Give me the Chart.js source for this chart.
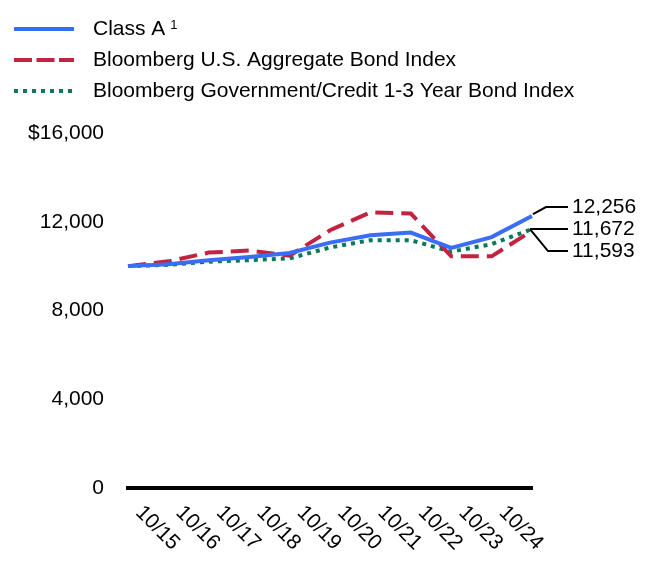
<!DOCTYPE html>
<html>
<head>
<meta charset="utf-8">
<script src="https://cdn.jsdelivr.net/npm/chart.js@4"></script>
<style>
  body { margin: 0; background: #ffffff; }
</style>
</head>
<body>
<canvas id="myChart" width="660" height="588"></canvas>
<script>
// growth of $10,000, first point is the start value
const categories = ['10/14', '10/15', '10/16', '10/17', '10/18', '10/19', '10/20', '10/21', '10/22', '10/23', '10/24'];
const classA = [10000, 10080, 10260, 10410, 10590, 11060, 11390, 11510, 10820, 11310, 12256];
const aggIndex = [10000, 10215, 10610, 10700, 10470, 11616, 12420, 12370, 10440, 10440, 11593];
const govCredit = [10000, 10060, 10200, 10270, 10350, 10840, 11170, 11170, 10650, 10990, 11672];
const seriesNames = ['Class A', 'Bloomberg U.S. Aggregate Bond Index', 'Bloomberg Government/Credit 1-3 Year Bond Index'];
const yTicks = [0, 4000, 8000, 12000, 16000];

const FONT = '"Liberation Sans", Arial, sans-serif';
const fmt = v => v.toLocaleString('en-US');

const extras = {
  id: 'extras',
  afterDraw(chart) {
    const ctx = chart.ctx;
    const xs = chart.scales.x;
    ctx.save();

    // legend, one row each
    const rows = [29, 60, 91];
    const legendDash = [[], [18, 4.5], [4, 5]];
    chart.data.datasets.forEach((ds, i) => {
      const y = rows[i];
      ctx.beginPath();
      ctx.setLineDash(legendDash[i]);
      ctx.strokeStyle = ds.borderColor;
      ctx.lineWidth = 4;
      ctx.moveTo(14, y);
      ctx.lineTo(74, y);
      ctx.stroke();
      ctx.setLineDash([]);
      ctx.fillStyle = '#000';
      ctx.font = '21px ' + FONT;
      ctx.textAlign = 'left';
      ctx.textBaseline = 'middle';
      ctx.fillText(ds.label, 93, y);
      if (i === 0) {
        const w = ctx.measureText(ds.label).width;
        ctx.font = '13px ' + FONT;
        ctx.fillText('1', 93 + w + 5, y - 4);
      }
    });

    // rotated x labels
    ctx.font = '21px ' + FONT;
    ctx.fillStyle = '#000';
    ctx.textAlign = 'center';
    ctx.textBaseline = 'middle';
    for (let i = 1; i < categories.length; i++) {
      const x = xs.getPixelForValue(i);
      ctx.save();
      ctx.translate(x - 11, 528);
      ctx.rotate(Math.PI / 4);
      ctx.fillText(categories[i], 0, 0);
      ctx.restore();
    }

    // end value labels
    const last = categories.length - 1;
    const pb = chart.getDatasetMeta(0).data[last];
    const pg = chart.getDatasetMeta(2).data[last];
    ctx.strokeStyle = '#000';
    ctx.lineWidth = 2;
    ctx.beginPath();
    ctx.moveTo(pb.x + 1, pb.y - 2);
    ctx.lineTo(pb.x + 14, pb.y - 9);
    ctx.lineTo(pb.x + 36, pb.y - 9);
    ctx.moveTo(pg.x - 2, pg.y);
    ctx.lineTo(pg.x + 36, pg.y);
    ctx.moveTo(pg.x - 2, pg.y);
    ctx.lineTo(pg.x + 16, pg.y + 22);
    ctx.lineTo(pg.x + 36, pg.y + 22);
    ctx.stroke();
    ctx.textAlign = 'left';
    ctx.fillText(fmt(classA[last]), pb.x + 40, pb.y - 9);
    ctx.fillText(fmt(govCredit[last]), pg.x + 40, pg.y);
    ctx.fillText(fmt(aggIndex[last]), pg.x + 40, pg.y + 22);

    ctx.restore();
  }
};

new Chart(document.getElementById('myChart'), {
  type: 'line',
  data: {
    labels: categories,
    datasets: [
      { label: seriesNames[0], data: classA, borderColor: '#3a6df5', borderWidth: 4 },
      { label: seriesNames[1], data: aggIndex, borderColor: '#c32241', borderWidth: 4, borderDash: [18, 8] },
      { label: seriesNames[2], data: govCredit, borderColor: '#06795a', borderWidth: 4, borderDash: [4, 5] }
    ]
  },
  options: {
    responsive: false,
    animation: false,
    layout: { padding: { top: 133, right: 128, left: 0, bottom: 0 } },
    elements: { point: { radius: 0 }, line: { tension: 0, fill: false } },
    plugins: { legend: { display: false }, tooltip: { enabled: false } },
    scales: {
      x: {
        offset: false,
        grid: { display: false, drawTicks: false },
        border: { display: true, color: '#000', width: 4 },
        ticks: { display: false },
        afterFit: s => { s.height = 100; }
      },
      y: {
        min: 0,
        max: 16000,
        afterBuildTicks: s => { s.ticks = yTicks.map(v => ({ value: v })); },
        grid: { display: false, drawTicks: false },
        border: { display: false },
        ticks: {
          padding: 24,
          color: '#000',
          font: { size: 21, family: FONT },
          callback: v => v === 16000 ? '$' + fmt(v) : fmt(v)
        },
        afterFit: s => { s.width = 128; }
      }
    }
  },
  plugins: [extras]
});
</script>
</body>
</html>
